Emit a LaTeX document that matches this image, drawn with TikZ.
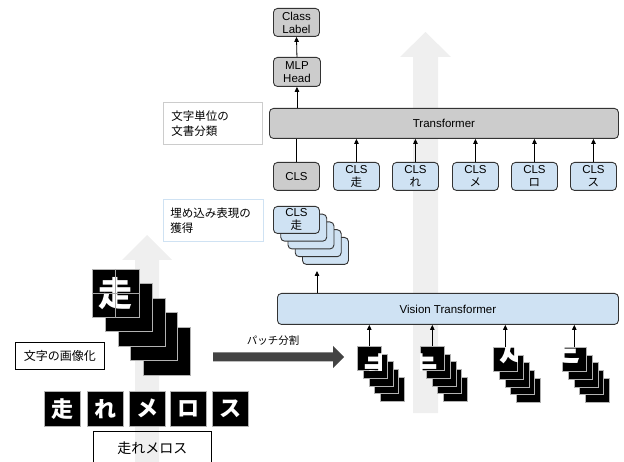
\documentclass[tikz,border=0pt]{standalone}
\usepackage{fontspec}
\setmainfont{Liberation Sans}
\newfontfamily\jp{Noto Sans CJK JP}
\usetikzlibrary{arrows.meta}
\definecolor{gfill}{HTML}{CCCCCC}
\definecolor{bfill}{HTML}{CFE2F3}
\definecolor{bgarrow}{HTML}{EFEFEF}
\definecolor{darkarrow}{HTML}{434343}
\definecolor{edge}{HTML}{333333}
\definecolor{labedge}{HTML}{CCCCCC}
\begin{document}
\begin{tikzpicture}[x=1pt,y=-1pt,
  box/.style={draw=edge, line width=0.9pt, rounded corners=4pt, inner sep=0pt, align=center, anchor=north west, font=\fontsize{11.5}{13}\selectfont},
  gbox/.style={box, fill=gfill},
  bbox/.style={box, fill=bfill},
  lab/.style={anchor=north west, inner xsep=8pt, inner ysep=0pt, align=left, font=\jp\fontsize{11.5}{15}\selectfont, line width=0.8pt, fill=white},
  conn/.style={draw=black, line width=0.8pt},
  arr/.style={conn, -{Triangle[length=5pt,width=4.5pt]}},
  tile/.style={fill=black, draw=gray!60, line width=0.6pt, anchor=north west, inner sep=0pt},
  plainbox/.style={draw=black, line width=0.8pt, anchor=north west, inner sep=0pt},
]
\useasboundingbox (0,0) rectangle (624,462);
% background arrows
\fill[bgarrow] (135,470) -- (135,260) -- (122,260) -- (147,235) -- (172,260) -- (159,260) -- (159,470) -- cycle;
\fill[bgarrow] (413,413) -- (413,57) -- (400,57) -- (425.5,32) -- (451,57) -- (438,57) -- (438,413) -- cycle;

% top part
\node[gbox, minimum width=46pt, minimum height=28pt] (classlabel) at (273,8) {Class\\Label};
\node[gbox, minimum width=47pt, minimum height=29pt] (mlp) at (273,57) {MLP\\Head};
\node[gbox, minimum width=349pt, minimum height=30pt] (trans) at (269,108) {Transformer};
\node[lab, draw=labedge, minimum width=99pt, minimum height=42pt, text width=83pt, inner xsep=8pt] (lab1) at (163,102) {文字単位の\\文書分類};

\node[gbox, minimum width=46pt, minimum height=28pt] (cls0) at (273,162) {CLS};
\foreach \k/\x/\c in {1/333/走, 2/392/れ, 3/452/メ, 4/511/ロ, 5/570/ス}{
  \node[bbox, minimum width=46pt, minimum height=28pt] (cls\k) at (\x,162) {CLS\\{\jp \c}};
}

\node[lab, draw=bfill, minimum width=100pt, minimum height=42pt, text width=86pt, inner xsep=7pt] (lab2) at (163,199) {埋め込み表現の\\獲得};

\foreach \k in {4,3,2,1}{
  \node[bbox, minimum width=46pt, minimum height=27pt] (emb\k) at ({273+7.25*\k},{206+7.75*\k}) {};
}
\node[bbox, minimum width=46pt, minimum height=27pt] (emb0) at (273,206) {CLS\\{\jp 走}};

\node[bbox, minimum width=341pt, minimum height=31pt] (vit) at (277,293) {Vision Transformer};

% connectors top
\draw[arr] (trans.north -| mlp.south) -- (mlp.south);
\draw[arr] (mlp.north) -- (classlabel.south);
\draw[conn] (cls0.north) -- (cls0.north |- trans.south);
\foreach \k in {1,...,5}{
  \draw[arr] (cls\k.north) -- (cls\k.north |- trans.south);
}
\coordinate (embtip) at (317,271);
\draw[arr] (vit.north -| embtip) -- (embtip);

% patches
\foreach \g/\px/\py in {1/357/346, 2/420/346, 3/493/347, 4/562/347}{
  \foreach \k in {4,3,2,1}{
    \node[tile, minimum size=24pt] (p\g b\k) at ({\px+5.75*\k},{\py+7.75*\k}) {};
  }
  \node[tile, minimum size=24pt] (p\g) at (\px,\py) {};
}
\begin{scope}
  \clip (p1.north west) rectangle (p1.south east);
  \node[text=white, inner sep=0pt, font=\jp\bfseries\fontsize{36}{36}\selectfont] at (p1.south east) {走};
\end{scope}
\begin{scope}
  \clip (p2.north west) rectangle (p2.south east);
  \node[text=white, inner sep=0pt, font=\jp\bfseries\fontsize{36}{36}\selectfont] at (p2.south west) {走};
\end{scope}
\begin{scope}
  \clip (p3.north west) rectangle (p3.south east);
  \node[text=white, inner sep=0pt, font=\jp\bfseries\fontsize{36}{36}\selectfont] at (p3.north east) {走};
\end{scope}
\begin{scope}
  \clip (p4.north west) rectangle (p4.south east);
  \node[text=white, inner sep=0pt, font=\jp\bfseries\fontsize{36}{36}\selectfont] at (p4.north west) {走};
\end{scope}
\foreach \g in {1,...,4}{
  \draw[arr] (p\g.north) -- (p\g.north |- vit.south);
}

% patch split arrow
\fill[darkarrow] (213,352.5) -- (333,352.5) -- (333,346) -- (344,357) -- (333,368) -- (333,361.5) -- (213,361.5) -- cycle;
\node[font=\jp\fontsize{10.5}{10.5}\selectfont, inner sep=0pt] (patchlab) at (273,341) {パッチ分割};

% left big tile stack
\foreach \k in {4,3,2,1}{
  \node[tile, minimum width=47pt, minimum height=48pt] (big\k) at ({92+12.75*\k},{269+14.5*\k}) {};
}
\node[tile, minimum width=47pt, minimum height=48pt] (big0) at (92,269) {};
\node[text=white, inner sep=0pt, font=\jp\bfseries\fontsize{34}{34}\selectfont] (bigglyph) at (big0.center) {走};
\draw[gray!70, line width=0.8pt] (big0.north) -- (big0.south) (big0.west) -- (big0.east);

\node[plainbox, fill=white, minimum width=89pt, minimum height=27pt, font=\jp\fontsize{12}{12}\selectfont] (imglab) at (15,342) {文字の画像化};

% character tiles
\foreach \c/\x in {走/44, れ/87, メ/129, ロ/170, ス/212}{
  \node[tile, minimum width=36pt, minimum height=35pt, text=white, font=\jp\bfseries\fontsize{22}{22}\selectfont] (ch\x) at (\x,391) {\c};
}
\node[plainbox, minimum width=118pt, minimum height=33pt, font=\jp\fontsize{14}{14}\selectfont] (input) at (93,431) {走れメロス};
\end{tikzpicture}
\end{document}
